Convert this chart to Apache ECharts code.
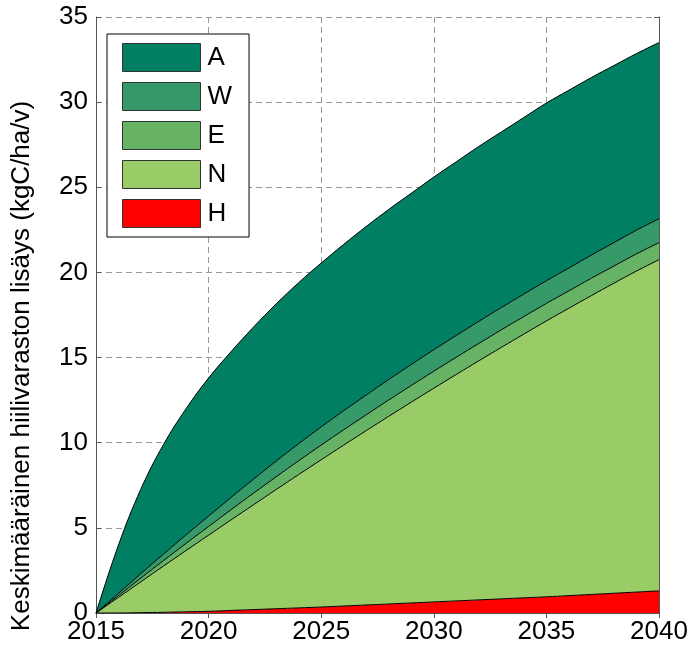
<!DOCTYPE html>
<html>
<head>
<meta charset="utf-8">
<script src="https://cdn.jsdelivr.net/npm/echarts@6/dist/echarts.min.js"></script>
<style>
  html, body { margin: 0; padding: 0; background: #fff; }
  #main { width: 694px; height: 651px; }
</style>
</head>
<body>
<div id="main"></div>
<script>
// vuodet
let years = ['2015', '2016', '2017', '2018', '2019', '2020', '2021', '2022', '2023', '2024', '2025', '2026', '2027',
  '2028', '2029', '2030', '2031', '2032', '2033', '2034', '2035', '2036', '2037', '2038', '2039', '2040']

// kerrosten paksuudet (pinottu alhaalta ylös: H, N, E, W, A)
let valuesH = [0, 0, 0.02, 0.04, 0.07, 0.1, 0.15, 0.2, 0.25, 0.3, 0.35, 0.41, 0.47,
  0.53, 0.59, 0.65, 0.71, 0.77, 0.83, 0.89, 0.95, 1.02, 1.09, 1.16, 1.23, 1.3]
let valuesN = [0, 0.92, 1.82, 2.72, 3.6, 4.47, 5.32, 6.16, 7.0, 7.83, 8.65, 9.45, 10.24,
  11.02, 11.79, 12.55, 13.3, 14.04, 14.77, 15.49, 16.2, 16.88, 17.55, 18.21, 18.85, 19.45]
let valuesE = [0, 0.11, 0.22, 0.32, 0.42, 0.51, 0.6, 0.68, 0.75, 0.81, 0.86, 0.9, 0.93,
  0.96, 0.98, 1.0, 1.01, 1.02, 1.03, 1.03, 1.03, 1.02, 1.02, 1.01, 1.01, 1.0]
let valuesW = [0, 0.13, 0.26, 0.38, 0.5, 0.61, 0.72, 0.82, 0.92, 1.0, 1.07, 1.12, 1.16,
  1.2, 1.23, 1.26, 1.28, 1.3, 1.31, 1.32, 1.33, 1.34, 1.36, 1.37, 1.39, 1.4]
let valuesA = [0, 2.84, 4.98, 6.44, 7.41, 8.11, 8.56, 8.94, 9.23, 9.46, 9.62, 9.77, 9.9,
  9.99, 10.06, 10.14, 10.2, 10.27, 10.31, 10.37, 10.44, 10.44, 10.43, 10.4, 10.37, 10.35]

let legendNames = ['A', 'W', 'E', 'N', 'H']
let yTitle = 'Keskimääräinen hiilivaraston lisäys (kgC/ha/v)'

let colors = {
  H: '#ff0000',
  N: '#99cc66',
  E: '#66b366',
  W: '#35996a',
  A: '#007f63'
}

let font = 'Liberation Sans, Arial, sans-serif'

function areaSeries (name, vals) {
  return {
    name: name,
    type: 'line',
    stack: 'total',
    data: vals,
    symbol: 'none',
    smooth: 0.4,
    color: colors[name],
    lineStyle: { color: '#000', width: 1 },
    areaStyle: { color: colors[name], opacity: 1 },
    emphasis: { disabled: true }
  }
}

let chart = echarts.init(document.getElementById('main'))

let frame = { show: true, lineStyle: { color: '#555', width: 1 } }
let tick = { show: true, inside: true, length: 5, lineStyle: { color: '#555' } }
let grid = { show: true, lineStyle: { color: '#999', type: [6, 4], width: 1 } }

let option = {
  animation: false,
  grid: { left: 96, right: 35, top: 17, bottom: 38, containLabel: false },
  legend: {
    data: legendNames,
    orient: 'vertical',
    left: 107,
    top: 34,
    icon: 'rect',
    itemWidth: 78,
    itemHeight: 28,
    itemGap: 10,
    padding: [9, 17, 9, 15],
    backgroundColor: '#fff',
    borderColor: '#000',
    borderWidth: 1,
    itemStyle: { borderColor: '#333', borderWidth: 1 },
    textStyle: { fontSize: 26, color: '#000', fontFamily: font, padding: [0, 0, 0, 2] }
  },
  xAxis: [
    {
      type: 'category',
      data: years,
      boundaryGap: false,
      axisLine: frame,
      axisTick: Object.assign({ interval: 4 }, tick),
      axisLabel: { interval: 4, fontSize: 26, color: '#000', fontFamily: font, margin: 6 },
      splitLine: Object.assign({ interval: 4 }, grid)
    },
    {
      type: 'category',
      data: years,
      boundaryGap: false,
      position: 'top',
      axisLine: frame,
      axisTick: Object.assign({ interval: 4 }, tick),
      axisLabel: { show: false },
      splitLine: { show: false }
    }
  ],
  yAxis: [
    {
      type: 'value',
      min: 0,
      max: 35,
      interval: 5,
      axisLine: frame,
      axisTick: tick,
      axisLabel: { fontSize: 26, color: '#000', fontFamily: font, margin: 8 },
      splitLine: grid
    },
    {
      type: 'value',
      position: 'right',
      min: 0,
      max: 35,
      interval: 5,
      axisLine: frame,
      axisTick: tick,
      axisLabel: { show: false },
      splitLine: { show: false }
    }
  ],
  graphic: [
    {
      type: 'text',
      x: 22,
      y: 366,
      rotation: Math.PI / 2,
      style: {
        text: yTitle,
        font: '26px ' + font,
        fill: '#000',
        align: 'center',
        verticalAlign: 'middle'
      }
    }
  ],
  series: [
    areaSeries('H', valuesH),
    areaSeries('N', valuesN),
    areaSeries('E', valuesE),
    areaSeries('W', valuesW),
    areaSeries('A', valuesA)
  ]
}

chart.setOption(option)
</script>
</body>
</html>
